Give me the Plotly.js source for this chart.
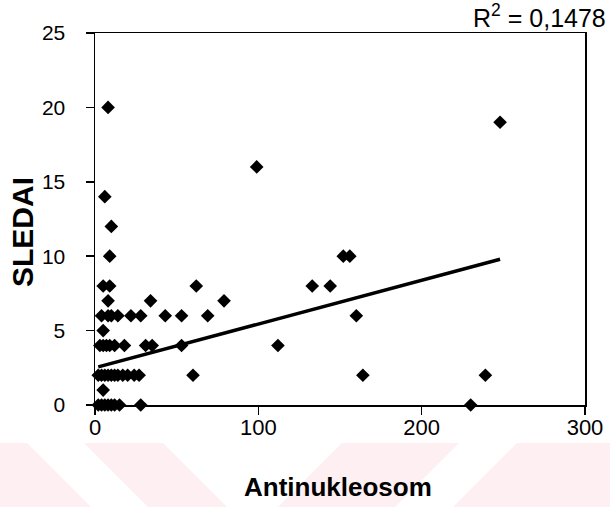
<!DOCTYPE html>
<html>
<head>
<meta charset="utf-8">
<script src="https://cdn.plot.ly/plotly-3.0.1.min.js"></script>
<style>
  html, body { margin: 0; padding: 0; background: #ffffff; }
  #chart { width: 610px; height: 507px; }
</style>
</head>
<body>
<div id="chart"></div>
<script>
// Antinukleosom (x) vs SLEDAI (y)
const antinukleosom = [
  2, 4, 6, 8, 10, 12, 15, 28, 230,
  5,
  2, 4, 6, 8, 10, 12, 14, 17, 20, 24, 27, 60, 164, 239,
  3, 5, 7, 9, 12, 18, 31, 35, 53, 112,
  5,
  4, 8, 10, 14, 22, 28, 43, 53, 69, 160,
  8, 34, 79,
  5, 9, 62, 133, 144,
  9, 152, 156,
  10,
  6,
  99,
  248,
  8
];
const sledai = [
  0, 0, 0, 0, 0, 0, 0, 0, 0,
  1,
  2, 2, 2, 2, 2, 2, 2, 2, 2, 2, 2, 2, 2, 2,
  4, 4, 4, 4, 4, 4, 4, 4, 4, 4,
  5,
  6, 6, 6, 6, 6, 6, 6, 6, 6, 6,
  7, 7, 7,
  8, 8, 8, 8, 8,
  10, 10, 10,
  12,
  14,
  16,
  19,
  20
];
// Linear trend line
const trendSlope = 0.0294;
const trendIntercept = 2.50;
const r2Label = "R<sup>2</sup> = 0,1478";
const xTickVals = [0, 100, 200, 300];
const yTickVals = [0, 5, 10, 15, 20, 25];

const xMin = Math.min(...antinukleosom);
const xMax = Math.max(...antinukleosom);
const trendX = [xMin, xMax];
const trendY = trendX.map(v => trendIntercept + trendSlope * v);

// pixel -> paper helpers for the faint background watermark
const W = 610, H = 507, ML = 95, MR = 25, MT = 33, MB = 102;
const PW = W - ML - MR, PH = H - MT - MB;
function px(x) { return (x - ML) / PW; }
function py(y) { return (H - MB - y) / PH; }
function poly(pts) {
  return 'M' + pts.map(p => px(p[0]).toFixed(4) + ',' + py(p[1]).toFixed(4)).join('L') + 'Z';
}
const wm = [
  [[0,443],[27,443],[91,507],[0,507]],
  [[84,443],[163,443],[227,507],[148,507]],
  [[342,443],[459,443],[395,507],[278,507]],
  [[517,443],[610,443],[610,507],[453,507]]
];
const shapes = wm.map(p => ({
  type: 'path', xref: 'paper', yref: 'paper', path: poly(p),
  fillcolor: '#fdeff2', line: { width: 0 }, layer: 'below'
}));

const font = 'Liberation Sans, Arial, sans-serif';

const traces = [
  {
    x: antinukleosom, y: sledai, type: 'scatter', mode: 'markers',
    marker: { symbol: 'diamond', size: 10.5, color: '#000000', line: { width: 0 } },
    cliponaxis: false, hoverinfo: 'x+y'
  },
  {
    x: trendX, y: trendY, type: 'scatter', mode: 'lines',
    line: { color: '#000000', width: 3.5 }, hoverinfo: 'skip'
  }
];

const layout = {
  width: W, height: H,
  margin: { l: ML, r: MR, t: MT, b: MB, pad: 0 },
  paper_bgcolor: '#ffffff', plot_bgcolor: 'rgba(0,0,0,0)',
  showlegend: false,
  font: { family: font, color: '#000000' },
  xaxis: {
    range: [0, 300], tickvals: xTickVals, ticktext: xTickVals.map(String),
    ticks: 'outside', ticklen: 8, tickwidth: 1.5, tickcolor: '#000',
    showline: true, linewidth: 1.5, linecolor: '#000', mirror: true,
    showgrid: false, zeroline: false,
    tickfont: { family: font, size: 22, color: '#000' },
    ticklabelstandoff: -6
  },
  yaxis: {
    range: [0, 25], tickvals: yTickVals, ticktext: yTickVals.map(String),
    ticks: 'outside', ticklen: 8, tickwidth: 1.5, tickcolor: '#000',
    showline: true, linewidth: 1.5, linecolor: '#000', mirror: true,
    showgrid: false, zeroline: false,
    tickfont: { family: font, size: 21, color: '#000' },
    ticklabelstandoff: 16
  },
  shapes: shapes,
  annotations: [
    { text: '<b>Antinukleosom</b>', xref: 'paper', yref: 'paper', x: px(338), y: py(487),
      xanchor: 'center', yanchor: 'middle', showarrow: false,
      font: { family: font, size: 26, color: '#000' } },
    { text: '<b>SLEDAI</b>', xref: 'paper', yref: 'paper', x: px(22), y: py(232),
      xanchor: 'center', yanchor: 'middle', showarrow: false, textangle: -90,
      font: { family: font, size: 30, color: '#000' } },
    { text: r2Label, xref: 'paper', yref: 'paper', x: px(608), y: py(16),
      xanchor: 'right', yanchor: 'middle', showarrow: false,
      font: { family: font, size: 25, color: '#000' } }
  ]
};

Plotly.newPlot('chart', traces, layout, { displayModeBar: false, staticPlot: true });
</script>
</body>
</html>
